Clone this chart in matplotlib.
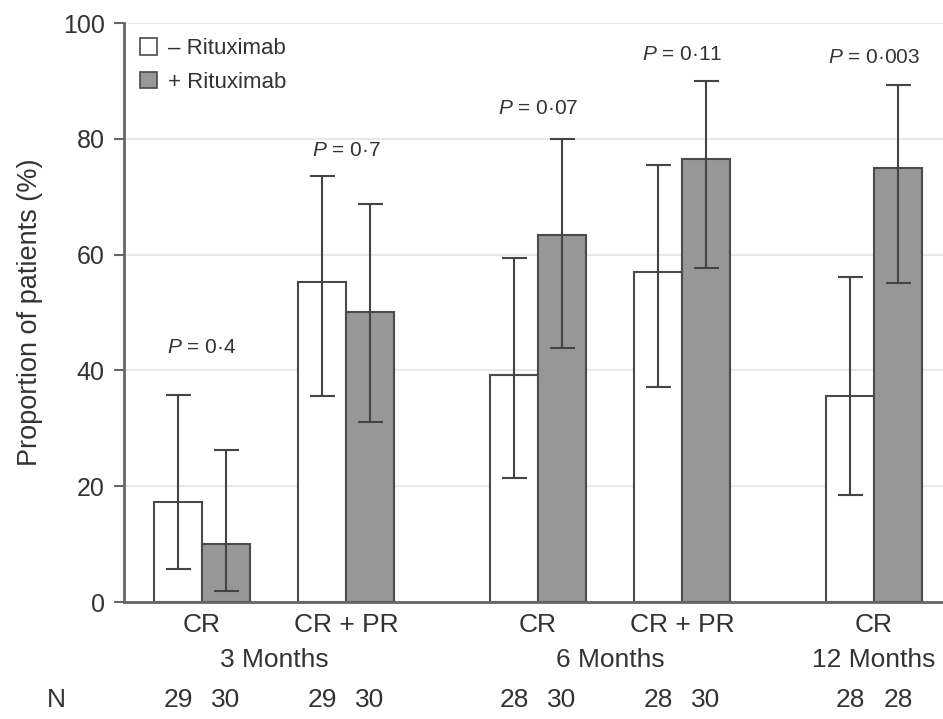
import matplotlib.pyplot as plt
from matplotlib.patches import Patch
import numpy as np

plt.rcParams['font.family'] = ['Liberation Sans', 'DejaVu Sans']
plt.rcParams['mathtext.fontset'] = 'custom'
plt.rcParams['mathtext.it'] = 'Liberation Sans:italic'
plt.rcParams['mathtext.rm'] = 'Liberation Sans'

# data
responses = ['CR', 'CR + PR', 'CR', 'CR + PR', 'CR']
months = ['3 Months', '6 Months', '12 Months']
minus_val = [17.3, 55.3, 39.2, 57.0, 35.6]
minus_lo = [5.7, 35.6, 21.4, 37.1, 18.5]
minus_hi = [35.8, 73.6, 59.4, 75.5, 56.1]
plus_val = [10.0, 50.1, 63.4, 76.5, 75.0]
plus_lo = [1.9, 31.1, 43.9, 57.7, 55.1]
plus_hi = [26.3, 68.7, 80.0, 90.0, 89.3]
p_text = ['0·4', '0·7', '0·07', '0·11', '0·003']
p_y = [44, 78, 85.3, 94.5, 94.1]
n_minus = [29, 29, 28, 28, 28]
n_plus = [30, 30, 30, 30, 28]

pos = np.array([0, 3, 7, 10, 14])
month_pos = [1.5, 8.5, 14]

txt = '#333333'
edge = '#4a4a4a'

fig = plt.figure(figsize=(9.43, 7.19), dpi=100)
ax = fig.add_axes([0.1315, 0.1627, 0.8685, 0.8053])

ax.bar(pos - 0.5, minus_val, width=1.0, color='white', edgecolor=edge, linewidth=1.5, zorder=2)
ax.bar(pos + 0.5, plus_val, width=1.0, color='#979797', edgecolor=edge, linewidth=1.5, zorder=2)

m = np.array(minus_val)
p = np.array(plus_val)
ax.errorbar(pos - 0.5, m, yerr=[m - np.array(minus_lo), np.array(minus_hi) - m],
            fmt='none', ecolor='#444444', elinewidth=1.5, capsize=9, capthick=1.5, zorder=3)
ax.errorbar(pos + 0.5, p, yerr=[p - np.array(plus_lo), np.array(plus_hi) - p],
            fmt='none', ecolor='#444444', elinewidth=1.5, capsize=9, capthick=1.5, zorder=3)

for x, t, y in zip(pos, p_text, p_y):
    ax.text(x, y, r'$\it{P}$ = ' + t, ha='center', va='center', fontsize=15, color=txt)

ax.set_ylim(0, 100)
ax.set_xlim(-1.625, 15.44)
ax.set_yticks([0, 20, 40, 60, 80, 100])
ax.yaxis.grid(True, color='#e4e4e4', linewidth=1.2, zorder=0)
ax.set_axisbelow(True)
ax.tick_params(axis='y', labelsize=18, labelcolor=txt, color='#666666', length=7, width=1.5, pad=7)
ax.set_xticks(pos)
ax.set_xticklabels(responses)
ax.tick_params(axis='x', labelsize=19, labelcolor=txt, length=0, pad=8)
for s in ['top', 'right']:
    ax.spines[s].set_visible(False)
for s in ['left', 'bottom']:
    ax.spines[s].set_color('#666666')
    ax.spines[s].set_linewidth(2)

ax.set_ylabel('Proportion of patients (%)', fontsize=19.5, color=txt, labelpad=14)

tr = ax.get_xaxis_transform()
for x, lab in zip(month_pos, months):
    ax.text(x, -0.100, lab, transform=tr, ha='center', va='center', fontsize=19, color=txt)
for x, a, b in zip(pos, n_minus, n_plus):
    ax.text(x - 0.5, -0.169, str(a), transform=tr, ha='center', va='center', fontsize=19, color=txt)
    ax.text(x + 0.5, -0.169, str(b), transform=tr, ha='center', va='center', fontsize=19, color=txt)
ax.text(-1.625 - 1.4, -0.169, 'N', transform=tr, ha='center', va='center', fontsize=19, color=txt)

handles = [Patch(facecolor='white', edgecolor=edge, linewidth=1.2, label='– Rituximab'),
           Patch(facecolor='#979797', edgecolor=edge, linewidth=1.2, label='+ Rituximab')]
leg = ax.legend(handles=handles, loc='upper left', bbox_to_anchor=(-0.005, 1.008), frameon=False,
                fontsize=16, handlelength=0.75, handleheight=0.75, handletextpad=0.5, labelspacing=0.55)
for t in leg.get_texts():
    t.set_color(txt)

fig.savefig('out.png', dpi=100)
